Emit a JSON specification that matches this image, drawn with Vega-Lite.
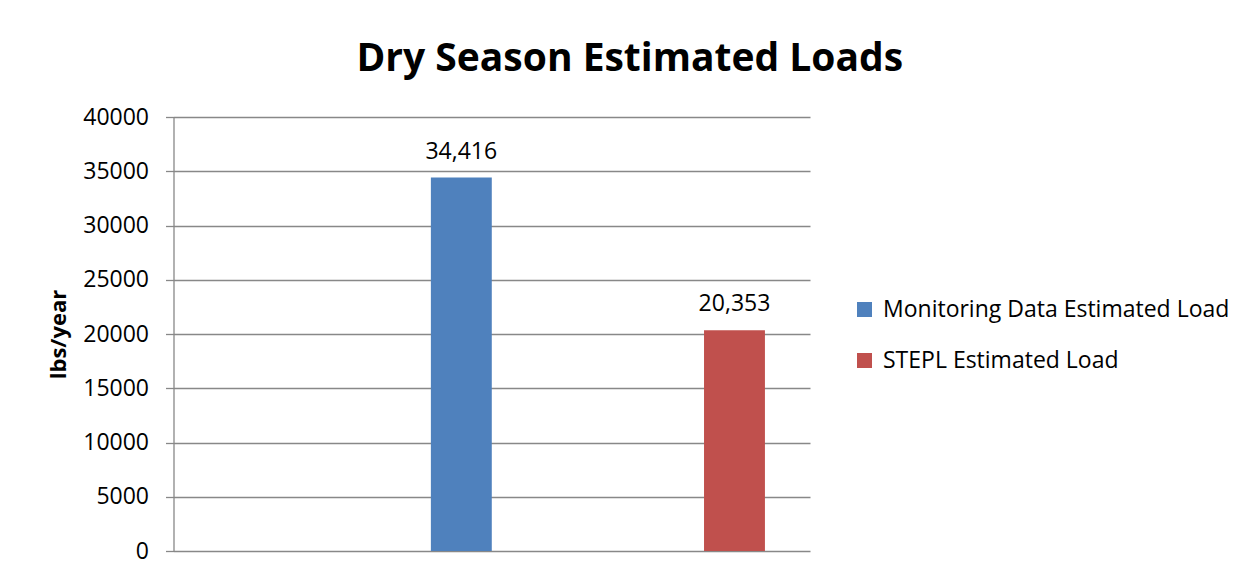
{
  "$schema": "https://vega.github.io/schema/vega-lite/v6.json",
  "width": 636.5,
  "height": 434,
  "autosize": {"type": "none"},
  "padding": {"left": 173.5, "top": 117, "right": 440, "bottom": 26},
  "background": "white",
  "config": {"view": {"stroke": null}},
  "title": {
    "text": "Dry Season Estimated Loads",
    "font": "Open Sans",
    "fontSize": 39,
    "fontWeight": "bold",
    "color": "black",
    "anchor": "middle",
    "frame": "group",
    "dx": 138,
    "dy": 50,
    "baseline": "bottom",
    "offset": 38
  },
  "data": {
    "values": [
      {"series": "Monitoring Data Estimated Load", "load": 34416},
      {"series": "STEPL Estimated Load", "load": 20353}
    ]
  },
  "encoding": {
    "x": {
      "field": "series",
      "type": "nominal",
      "sort": null,
      "scale": {"paddingInner": 0.777, "paddingOuter": 0.5536, "align": 0.851},
      "axis": null
    },
    "y": {
      "field": "load",
      "type": "quantitative",
      "scale": {"domain": [0, 40000], "nice": false},
      "axis": {
        "title": "lbs/year",
        "titleFont": "Open Sans",
        "titleFontSize": 22,
        "titleFontWeight": "bold",
        "titleColor": "black",
        "titlePadding": 12,
        "values": [0, 5000, 10000, 15000, 20000, 25000, 30000, 35000, 40000],
        "format": "d",
        "labelFont": "Open Sans",
        "labelFontSize": 23,
        "labelColor": "black",
        "labelPadding": 17,
        "tickSize": 8,
        "tickColor": "#888888",
        "tickWidth": 1.3,
        "domainColor": "#888888",
        "domainWidth": 1.3,
        "grid": true,
        "gridColor": "#888888",
        "gridWidth": 1.3
      }
    }
  },
  "layer": [
    {
      "mark": {"type": "bar"},
      "encoding": {
        "color": {
          "field": "series",
          "type": "nominal",
          "scale": {
            "domain": ["Monitoring Data Estimated Load", "STEPL Estimated Load"],
            "range": ["#4F81BD", "#C0504D"]
          },
          "legend": {
            "title": null,
            "orient": "none",
            "legendX": 679.5,
            "legendY": 181,
            "symbolType": "square",
            "symbolSize": 225,
            "symbolStrokeWidth": 0,
            "labelFont": "Open Sans",
            "labelFontSize": 23,
            "labelColor": "black",
            "labelOffset": 7,
            "rowPadding": 27,
            "labelLimit": 500
          }
        }
      }
    },
    {
      "mark": {
        "type": "text",
        "font": "Open Sans",
        "fontSize": 23,
        "color": "black",
        "baseline": "alphabetic",
        "dy": -19
      },
      "encoding": {
        "text": {"field": "load", "type": "quantitative", "format": ","}
      }
    }
  ]
}
